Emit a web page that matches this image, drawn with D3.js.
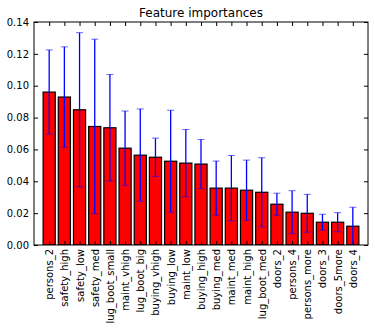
<!DOCTYPE html>
<html>
<head>
<meta charset="utf-8">
<script src="https://cdn.jsdelivr.net/npm/d3@7"></script>
<style>
  body { margin: 0; background: #fff; }
  svg text { font-family: "DejaVu Sans", sans-serif; }
</style>
</head>
<body>
<div id="chart"></div>
<script>
const features = ["persons_2","safety_high","safety_low","safety_med","lug_boot_small","maint_vhigh",
  "lug_boot_big","buying_vhigh","buying_low","maint_low","buying_high","buying_med","maint_med",
  "maint_high","lug_boot_med","doors_2","persons_4","persons_more","doors_3","doors_5more","doors_4"];
const importances = [0.0960, 0.0929, 0.0849, 0.0744, 0.0736, 0.0608, 0.0564, 0.0551, 0.0526, 0.0514,
  0.0508, 0.0357, 0.0357, 0.0344, 0.0331, 0.0256, 0.0206, 0.0199, 0.0143, 0.0143, 0.0118];
const stds = [0.0265, 0.0315, 0.0484, 0.0548, 0.0334, 0.0233, 0.0290, 0.0120, 0.0320, 0.0211,
  0.0154, 0.0170, 0.0205, 0.0189, 0.0217, 0.0069, 0.0135, 0.0119, 0.0050, 0.0060, 0.0119];
const yTicks = [0.00, 0.02, 0.04, 0.06, 0.08, 0.10, 0.12, 0.14];

const W = 375, H = 331;
const margin = { top: 22, right: 7, bottom: 86, left: 34 };
const width = W - margin.left - margin.right;
const height = H - margin.top - margin.bottom;

const svg = d3.select("#chart").append("svg")
  .attr("width", W).attr("height", H);
const g = svg.append("g").attr("transform", `translate(${margin.left},${margin.top})`);

const x = d3.scaleLinear().domain([-1, features.length]).range([0, width]);
const y = d3.scaleLinear().domain([0, 0.14]).range([height, 0]);
const unit = x(1) - x(0);
const barW = unit * 0.8;

g.append("defs").append("clipPath").attr("id", "plot-clip")
  .append("rect").attr("width", width).attr("height", height);

const plot = g.append("g").attr("clip-path", "url(#plot-clip)");

// Bars
plot.selectAll(".bar")
  .data(importances)
  .join("rect")
  .attr("class", "bar")
  .attr("x", (d, i) => x(i) - barW / 2)
  .attr("y", (d) => y(d))
  .attr("width", barW)
  .attr("height", (d) => y(0) - y(d))
  .attr("fill", "#ff0000")
  .attr("stroke", "#000")
  .attr("stroke-width", 1.2);

// Error bars
const err = plot.selectAll(".err")
  .data(importances.map((v, i) => ({ i, v, s: stds[i] })))
  .join("g")
  .attr("class", "err")
  .attr("stroke", "#0000ff");
err.append("line")
  .attr("x1", (d) => x(d.i)).attr("x2", (d) => x(d.i))
  .attr("y1", (d) => y(d.v - d.s)).attr("y2", (d) => y(d.v + d.s))
  .attr("stroke-width", 1.3);
[-1, 1].forEach((sign) => {
  err.append("line")
    .attr("x1", (d) => x(d.i) - 3.5).attr("x2", (d) => x(d.i) + 3.5)
    .attr("y1", (d) => y(d.v + sign * d.s)).attr("y2", (d) => y(d.v + sign * d.s))
    .attr("stroke-width", 1)
    .attr("stroke-opacity", 0.6);
});

// Axes: ticks inward on all four sides
const idx = d3.range(features.length);
g.append("g")
  .attr("transform", `translate(0,${height})`)
  .call(d3.axisBottom(x).tickValues(idx).tickFormat((i) => features[i]).tickSizeInner(-4).tickSizeOuter(0))
  .call((a) => a.select(".domain").remove())
  .selectAll("text")
  .attr("font-size", "10px")
  .attr("fill", "#000")
  .attr("transform", "rotate(-90)")
  .attr("text-anchor", "end")
  .attr("x", -4)
  .attr("y", 0)
  .attr("dy", "0.35em");

g.append("g")
  .call(d3.axisTop(x).tickValues(idx).tickFormat("").tickSizeInner(-4).tickSizeOuter(0))
  .call((a) => a.select(".domain").remove());

g.append("g")
  .call(d3.axisLeft(y).tickValues(yTicks).tickFormat(d3.format(".2f")).tickSizeInner(-4).tickSizeOuter(0).tickPadding(5))
  .call((a) => a.select(".domain").remove())
  .selectAll("text")
  .attr("font-size", "10px")
  .attr("fill", "#000");

g.append("g")
  .attr("transform", `translate(${width},0)`)
  .call(d3.axisRight(y).tickValues(yTicks).tickFormat("").tickSizeInner(-4).tickSizeOuter(0))
  .call((a) => a.select(".domain").remove());

g.selectAll(".tick line").attr("stroke", "#000");

// Frame
g.append("rect")
  .attr("width", width).attr("height", height)
  .attr("fill", "none").attr("stroke", "#000").attr("stroke-width", 1);

// Title
svg.append("text")
  .attr("x", margin.left + width / 2)
  .attr("y", margin.top - 5.5)
  .attr("text-anchor", "middle")
  .attr("font-size", "12px")
  .attr("fill", "#000")
  .text("Feature importances");
</script>
</body>
</html>
